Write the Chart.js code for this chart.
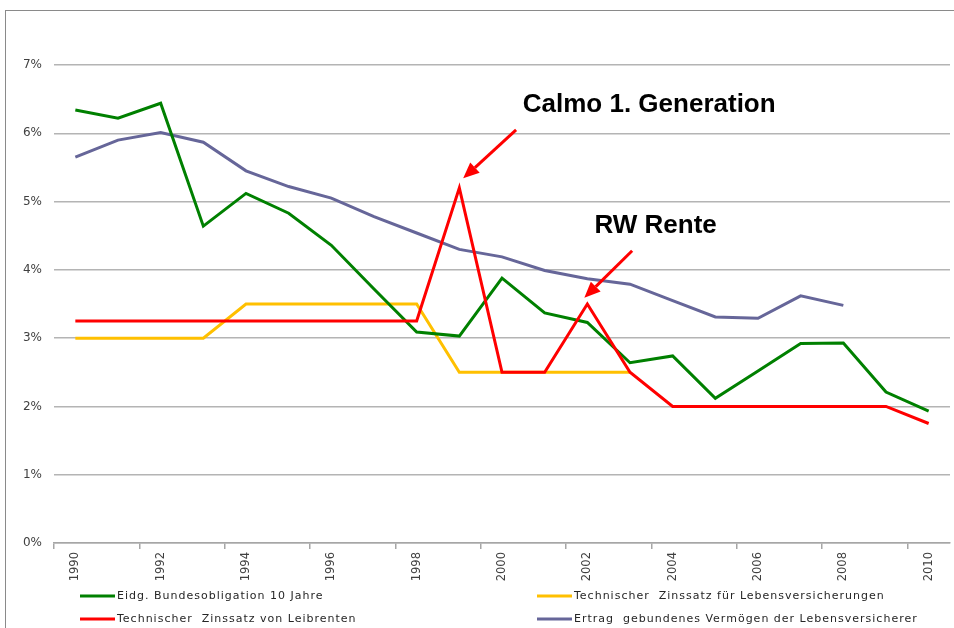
<!DOCTYPE html>
<html>
<head>
<meta charset="utf-8">
<script src="https://cdn.jsdelivr.net/npm/chart.js@4/dist/chart.umd.min.js"></script>
<style>
  html, body { margin: 0; padding: 0; background: #fff; overflow: hidden; }
  #wrap { position: relative; width: 954px; height: 628px; }
  #frame { position: absolute; left: 5px; top: 10px; width: 1000px; height: 700px;
           border-left: 1px solid #8a8a8a; border-top: 1px solid #8a8a8a; pointer-events: none; }
  canvas { position: absolute; left: 0; top: 0; }
</style>
</head>
<body>
<div id="wrap">
  <canvas id="chart" width="954" height="628"></canvas>
  <div id="frame"></div>
</div>
<script>
// data (percent)
const years = ['1990', '1991', '1992', '1993', '1994', '1995', '1996', '1997', '1998', '1999', '2000',
               '2001', '2002', '2003', '2004', '2005', '2006', '2007', '2008', '2009', '2010'];

const bundesobligation = [6.34, 6.22, 6.44, 4.64, 5.12, 4.83, 4.36, 3.72, 3.09, 3.03, 3.88,
                          3.37, 3.23, 2.64, 2.74, 2.12, 2.52, 2.92, 2.93, 2.21, 1.93];
const lebensversicherungen = [3.0, 3.0, 3.0, 3.0, 3.5, 3.5, 3.5, 3.5, 3.5, 2.5, 2.5,
                              2.5, 2.5, 2.5, null, null, null, null, null, null, null];
const leibrenten = [3.25, 3.25, 3.25, 3.25, 3.25, 3.25, 3.25, 3.25, 3.25, 5.2, 2.5,
                    2.5, 3.5, 2.5, 2.0, 2.0, 2.0, 2.0, 2.0, 2.0, 1.75];
const ertrag = [5.65, 5.9, 6.01, 5.87, 5.45, 5.22, 5.05, 4.78, 4.54, 4.30, 4.19,
                3.99, 3.87, 3.79, 3.55, 3.31, 3.29, 3.62, 3.48, null, null];

const seriesNames = ['Eidg. Bundesobligation 10 Jahre', 'Technischer  Zinssatz für Lebensversicherungen',
                     'Technischer  Zinssatz von Leibrenten', 'Ertrag  gebundenes Vermögen der Lebensversicherer'];
const yTicks = [0, 1, 2, 3, 4, 5, 6, 7];

// callouts, placed in data space (category index, percent)
const notes = [
  { text: 'Calmo 1. Generation', at: [13.45, 6.41], from: [10.33, 6.05], to: [9.09, 5.34] },
  { text: 'RW Rente', at: [13.6, 4.65], from: [13.05, 4.28], to: [11.93, 3.59] }
];

const colors = ['#008000', '#FFC000', '#FF0000', '#666699'];
const font = 'DejaVu Sans';

function line(label, data, color, order) {
  return {
    label: label,
    data: data,
    borderColor: color,
    backgroundColor: color,
    borderWidth: 3,
    pointRadius: 0,
    tension: 0,
    fill: false,
    order: order
  };
}

// legend in two columns under the axis, like the original
const gridLegend = {
  id: 'gridLegend',
  afterDraw(chart) {
    const ctx = chart.ctx;
    const colX = [80, 537];
    const rowY = [596, 619];
    ctx.save();
    ctx.font = '11px "' + font + '"';
    ctx.letterSpacing = '1px';
    ctx.fillStyle = '#262626';
    ctx.textBaseline = 'middle';
    chart.data.datasets.forEach((ds, i) => {
      const x = colX[i % 2];
      const y = rowY[Math.floor(i / 2)];
      ctx.strokeStyle = ds.borderColor;
      ctx.lineWidth = 3;
      ctx.beginPath();
      ctx.moveTo(x, y);
      ctx.lineTo(x + 35, y);
      ctx.stroke();
      ctx.fillText(ds.label, x + 37, y);
    });
    ctx.restore();
  }
};

const callouts = {
  id: 'callouts',
  afterDatasetsDraw(chart) {
    const ctx = chart.ctx;
    const xs = chart.scales.x;
    const ys = chart.scales.y;
    const px = p => [xs.getPixelForValue(p[0]), ys.getPixelForValue(p[1])];
    ctx.save();
    notes.forEach(n => {
      const [tx, ty] = px(n.at);
      ctx.font = 'bold 26px "Liberation Sans"';
      ctx.fillStyle = '#000';
      ctx.textAlign = 'center';
      ctx.textBaseline = 'middle';
      ctx.fillText(n.text, tx, ty);

      const [x1, y1] = px(n.from);
      const [x2, y2] = px(n.to);
      const ang = Math.atan2(y2 - y1, x2 - x1);
      const head = 16, half = 7;
      const bx = x2 - head * Math.cos(ang);
      const by = y2 - head * Math.sin(ang);
      ctx.strokeStyle = '#FF0000';
      ctx.fillStyle = '#FF0000';
      ctx.lineWidth = 3;
      ctx.beginPath();
      ctx.moveTo(x1, y1);
      ctx.lineTo(bx, by);
      ctx.stroke();
      ctx.beginPath();
      ctx.moveTo(x2, y2);
      ctx.lineTo(bx + half * Math.sin(ang), by - half * Math.cos(ang));
      ctx.lineTo(bx - half * Math.sin(ang), by + half * Math.cos(ang));
      ctx.closePath();
      ctx.fill();
    });
    ctx.restore();
  }
};

new Chart(document.getElementById('chart'), {
  type: 'line',
  data: {
    labels: years,
    datasets: [
      line(seriesNames[0], bundesobligation, colors[0], 1),
      line(seriesNames[1], lebensversicherungen, colors[1], 3),
      line(seriesNames[2], leibrenten, colors[2], 0),
      line(seriesNames[3], ertrag, colors[3], 2)
    ]
  },
  options: {
    responsive: false,
    animation: false,
    devicePixelRatio: 1,
    layout: { padding: { left: 0, top: 65, right: 4, bottom: 45 } },
    plugins: {
      legend: { display: false },
      tooltip: { enabled: false }
    },
    scales: {
      x: {
        offset: true,
        grid: {
          offset: true,
          drawOnChartArea: false,
          tickLength: 6,
          lineWidth: 1.5,
          tickColor: c => (c.index % 2 === 0 ? '#a6a6a6' : 'rgba(0,0,0,0)')
        },
        border: { color: '#a6a6a6', width: 1.5 },
        ticks: {
          autoSkip: false,
          minRotation: 90,
          maxRotation: 90,
          padding: 3,
          color: '#404040',
          font: { family: font, size: 11.5 },
          callback: (v, i) => (i % 2 === 0 ? years[i] : '')
        },
        afterFit: s => { s.height = 40; }
      },
      y: {
        min: 0,
        max: 7,
        afterBuildTicks: s => { s.ticks = yTicks.map(v => ({ value: v })); },
        ticks: {
          padding: 12,
          color: '#404040',
          font: { family: font, size: 12 },
          callback: v => v + '%'
        },
        grid: { color: '#b4b4b4', lineWidth: 1.5, drawTicks: false },
        border: { display: false },
        afterFit: s => { s.width = 54; }
      }
    }
  },
  plugins: [callouts, gridLegend]
});
</script>
</body>
</html>
